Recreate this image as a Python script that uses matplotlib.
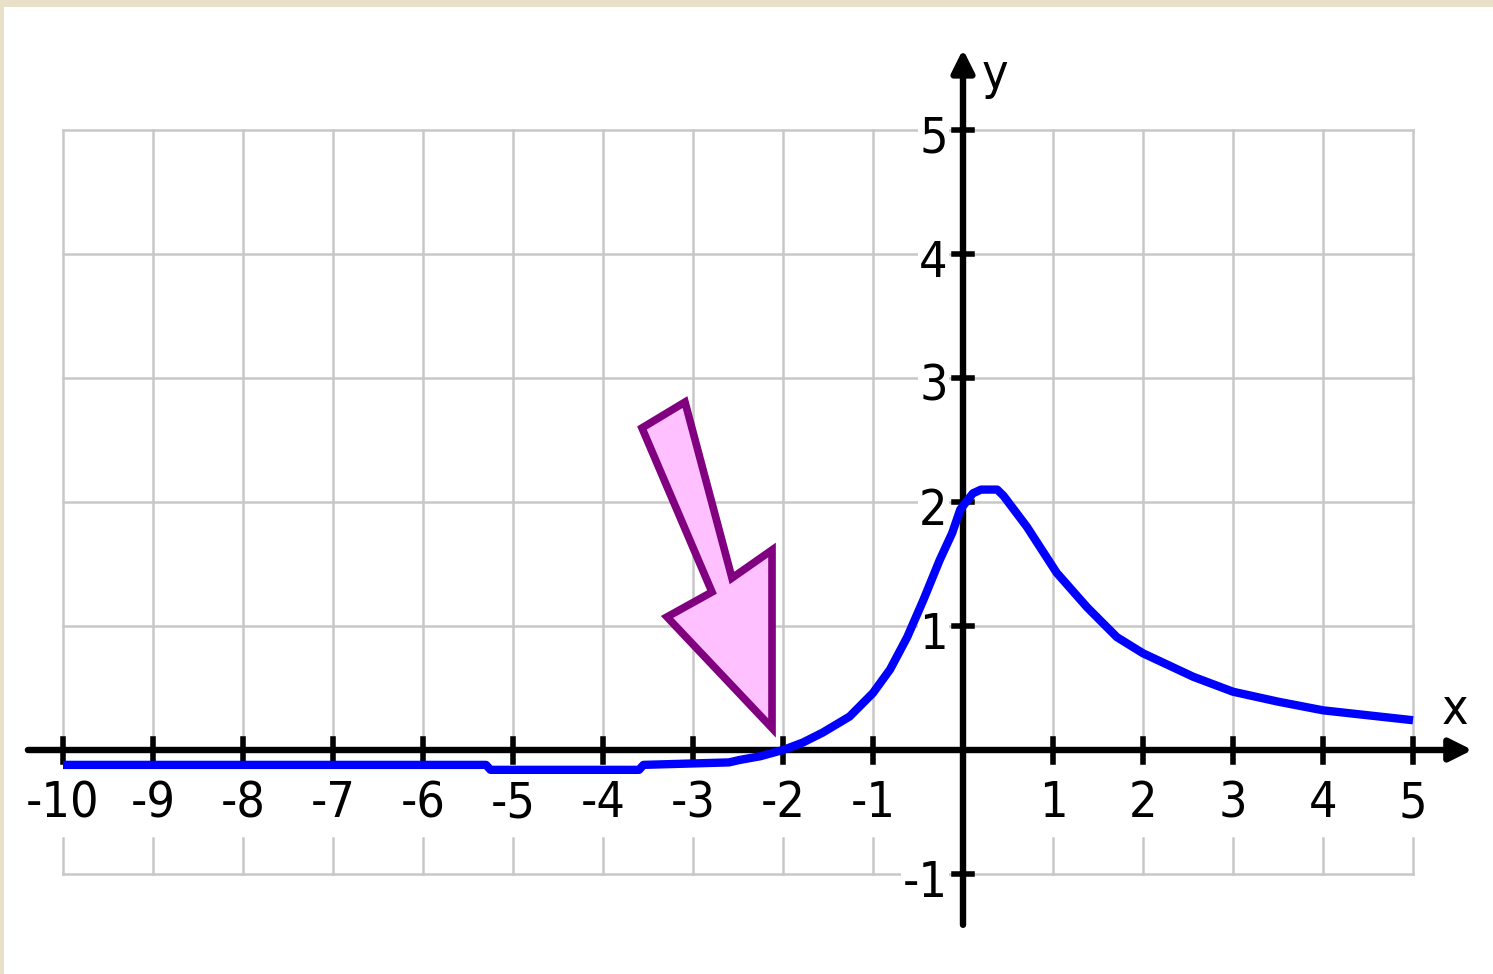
import matplotlib
matplotlib.use('Agg')
import matplotlib.pyplot as plt
from matplotlib.patches import Polygon, Rectangle

# curve points (x, y)
curve_x = [-10.0, -5.3, -5.25, -3.6, -3.55, -2.6, -2.48, -2.25, -2.0, -1.78, -1.56, -1.26,
           -1.0, -0.81, -0.62, -0.44, -0.26, -0.12, -0.03, 0.11, 0.2, 0.38, 0.45, 0.71,
           1.04, 1.38, 1.71, 2.0, 2.56, 3.0, 3.5, 4.0, 4.5, 5.0]
curve_y = [-0.12, -0.12, -0.16, -0.16, -0.12, -0.1, -0.08, -0.05, 0.0, 0.06, 0.14, 0.27,
           0.46, 0.65, 0.91, 1.21, 1.53, 1.75, 1.94, 2.07, 2.1, 2.1, 2.05, 1.8,
           1.43, 1.15, 0.91, 0.78, 0.59, 0.47, 0.39, 0.32, 0.28, 0.24]

x_ticks = list(range(-10, 6))
y_ticks = [-1, 1, 2, 3, 4, 5]

# outline of the pointer arrow (tail -> head -> tip)
arrow_outline = [(-3.567, 2.597), (-3.089, 2.806), (-2.567, 1.387), (-2.122, 1.613),
                 (-2.122, 0.177), (-3.289, 1.073), (-2.789, 1.274)]

tkw = dict(fontsize=36, family=['DejaVu Sans'], stretch='condensed')
grid_col = '#c8c8c8'

fig = plt.figure(figsize=(14.93, 9.74), dpi=100)
ax = fig.add_axes([0, 0, 1, 1])
ax.set_xlim(-10 - 63 / 90, 5 + 80 / 90)
ax.set_ylim(-224 / 124, 750 / 124)
ax.axis('off')

# frame strips along top and left edge
fig.patches.append(Rectangle((0, 1 - 7 / 974), 1, 7 / 974, transform=fig.transFigure,
                             fc='#e8e0c8', ec='none', zorder=0))
fig.patches.append(Rectangle((0, 0), 4 / 1493, 1, transform=fig.transFigure,
                             fc='#e8e0c8', ec='none', zorder=0))

# grid
for gx in x_ticks:
    ax.plot([gx, gx], [0, 5], color=grid_col, lw=1.8, zorder=1)
    ax.plot([gx, gx], [-1, -0.71], color=grid_col, lw=1.8, zorder=1)
for gy in [1, 2, 3, 4, 5]:
    ax.plot([-10, 5], [gy, gy], color=grid_col, lw=1.8, zorder=1)
ax.plot([-10, 5], [-1, -1], color=grid_col, lw=1.8, zorder=1)

# axes with arrow heads
akw = dict(arrowstyle='-|>', lw=4.6, color='black', mutation_scale=34, shrinkA=0, shrinkB=0)
ax.annotate('', xy=(5.66, 0), xytext=(-10.39, 0), arrowprops=akw, zorder=3)
ax.annotate('', xy=(0, 5.65), xytext=(0, -1.41), arrowprops=akw, zorder=3)

# tick marks
for tx in x_ticks:
    if tx != 0:
        ax.plot([tx, tx], [-0.1, 0.09], color='black', lw=4, zorder=3)
for ty in y_ticks:
    ax.plot([-0.1, 0.1], [ty, ty], color='black', lw=4, zorder=3)

# tick labels
for tx in x_ticks:
    if tx != 0:
        ax.text(tx, -0.43, str(tx), ha='center', va='center', zorder=4, **tkw)
for ty in y_ticks:
    ax.text(-0.17, ty - 0.07, str(ty), ha='right', va='center', zorder=2,
            bbox=dict(fc='white', ec='none', pad=1), **tkw)
ax.text(5.47, 0.32, 'x', ha='center', va='center', **tkw)
ax.text(0.36, 5.44, 'y', ha='center', va='center', **tkw)

# the curve
ax.plot(curve_x, curve_y, color='#0000ff', lw=6, solid_capstyle='butt',
        solid_joinstyle='round', zorder=5)

# pointer arrow
ax.add_patch(Polygon(arrow_outline, closed=True, fc='#ffc0ff', ec='#800080',
                     lw=5.5, joinstyle='miter', zorder=6))

fig.savefig('out.png', dpi=100)
